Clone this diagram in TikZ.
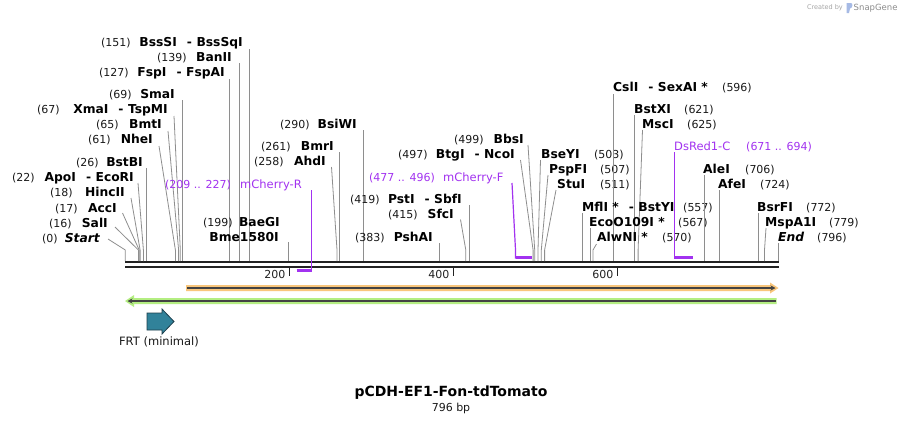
\documentclass[tikz,border=0pt]{standalone}
\usepackage{fontspec}
\setmainfont{DejaVu Sans}
\usetikzlibrary{arrows.meta}
\definecolor{cutgray}{HTML}{8E8E8E}
\definecolor{primcol}{HTML}{A232F0}
\definecolor{bbcol}{HTML}{222222}
\definecolor{orangeF}{HTML}{F9C67C}
\definecolor{greenF}{HTML}{B4EE82}
\definecolor{frtcol}{HTML}{31829A}
\definecolor{frtline}{HTML}{1E3F4C}
\newcommand\dsh{\hspace{10pt}-\hspace{4.5pt}}
\newcommand\cutv[3]{\coordinate (#1a) at (#2,#3); \coordinate (#1b) at (#2,261); \draw[cut] (#1a) -- (#1b);}
\newcommand\cuts[4]{\coordinate (#1a) at (#2,#3); \coordinate (#1m) at (#4,250); \coordinate (#1b) at (#4,261); \draw[cut] (#1a) -- (#1m) -- (#1b);}
\tikzset{
  nm/.style={inner sep=0pt, text height=8.9pt, text depth=0pt, font=\fontsize{12.3}{14}\selectfont\bfseries, text=black},
  num/.style={inner sep=0pt, text height=8pt, text depth=0pt, font=\fontsize{11}{13}\selectfont, text=black!90},
  prim/.style={inner sep=0pt, text height=8.3pt, text depth=0pt, font=\fontsize{11.5}{13}\selectfont, text=primcol},
  primn/.style={inner sep=0pt, text height=8pt, text depth=0pt, font=\fontsize{11}{13}\selectfont, text=primcol},
  cut/.style={draw=cutgray, line width=0.8pt},
  primline/.style={draw=primcol, line width=1.2pt},
  primbar/.style={draw=primcol, line width=2.6pt},
  bb/.style={draw=bbcol, line width=2.6pt},
  tickmark/.style={draw=bbcol, line width=1.6pt},
  ticklbl/.style={inner sep=0pt, anchor=east, font=\fontsize{11}{13}\selectfont, text=bbcol},
  featline/.style={draw=bbcol!85, line width=1.5pt, -{Stealth[length=5pt,width=5pt]}},
}
\begin{document}
\begin{tikzpicture}[x=1pt,y=-1pt]
\useasboundingbox (0,0) rectangle (904,424);
\fill[white] (0,0) rectangle (904,424);

% ---- SnapGene credit
\node[inner sep=0pt, anchor=east, font=\fontsize{6.5}{8}\selectfont, text=black!35] (credA) at (843,8) {Created by};
\fill[cyan!45!blue!35] (846.5,3) -- (851,3) .. controls (853,3) and (853,8) .. (850,8.5) -- (849,13) -- (846.5,13) -- cycle;
\node[inner sep=0pt, anchor=west, font=\fontsize{8.5}{10}\selectfont, text=black!45] (credB) at (853.5,8) {SnapGene};

% ---- backbone
\coordinate (bbL1) at (125,262); \coordinate (bbR1) at (778.8,262);
\coordinate (bbL2) at (125,267); \coordinate (bbR2) at (778.8,267);
\draw[bb] (bbL1) -- (bbR1);
\draw[bb] (bbL2) -- (bbR2);

% ticks
\coordinate (t200a) at (289.4,268); \coordinate (t200b) at (289.4,276);
\coordinate (t400a) at (453.5,268); \coordinate (t400b) at (453.5,276);
\coordinate (t600a) at (617.6,268); \coordinate (t600b) at (617.6,276);
\draw[tickmark] (t200a) -- (t200b);
\draw[tickmark] (t400a) -- (t400b);
\draw[tickmark] (t600a) -- (t600b);
\node[ticklbl] (l200) at (285.5,274.5) {200};
\node[ticklbl] (l400) at (449.5,274.5) {400};
\node[ticklbl] (l600) at (613.5,274.5) {600};

% ---- left-hand labels (number, name)
\node[num,anchor=west] at (101,42) {(151)};
\node[nm,anchor=east] (nBssSI) at (243,42) {BssSI\dsh BssSqI};
\cutv{cBssSI}{249.2}{49}

\node[num,anchor=west] at (157,57) {(139)};
\node[nm,anchor=east] (nBanII) at (232,57) {BanII};
\cutv{cBanII}{239.3}{63}

\node[num,anchor=west] at (99,72) {(127)};
\node[nm,anchor=east] (nFspI) at (225,72) {FspI\dsh FspAI};
\cutv{cFspI}{229.5}{79}

\node[num,anchor=west] at (109,94) {(69)};
\node[nm,anchor=east] (nSmaI) at (175,94) {SmaI};
\cutv{cSmaI}{181.9}{100}

\node[num,anchor=west] at (37,109) {(67)};
\node[nm,anchor=east] (nXmaI) at (168,109) {XmaI\dsh TspMI};
\cuts{cXmaI}{174}{116}{180.3}

\node[num,anchor=west] at (96,124) {(65)};
\node[nm,anchor=east] (nBmtI) at (162,124) {BmtI};
\cuts{cBmtI}{168}{131}{178.6}

\node[num,anchor=west] at (88,139) {(61)};
\node[nm,anchor=east] (nNheI) at (153,139) {NheI};
\cuts{cNheI}{159}{146}{175.4}

\node[num,anchor=west] at (76,162) {(26)};
\node[nm,anchor=east] (nBstBI) at (143,162) {BstBI};
\cutv{cBstBI}{146.6}{168}

\node[num,anchor=west] at (12,177) {(22)};
\node[nm,anchor=east] (nApoI) at (134,177) {ApoI\dsh EcoRI};
\cuts{cApoI}{138}{183}{143.4}

\node[num,anchor=west] at (50,192) {(18)};
\node[nm,anchor=east] (nHincII) at (125,192) {HincII};
\cuts{cHincII}{131}{198}{140.1}

\node[num,anchor=west] at (55,208) {(17)};
\node[nm,anchor=east] (nAccI) at (117,208) {AccI};
\cuts{cAccI}{122.5}{213}{139.2}

\node[num,anchor=west] at (49,223) {(16)};
\node[nm,anchor=east] (nSalI) at (108,223) {SalI};
\cuts{cSalI}{115}{227}{138.4}

\node[num,anchor=west] at (42,238) {(0)};
\node[nm,anchor=east] (nStart) at (100,238) {\itshape Start};
\cuts{cStart}{108}{239}{125.3}

\node[num,anchor=west] at (280,124) {(290)};
\node[nm,anchor=east] (nBsiWI) at (357,124) {BsiWI};
\cutv{cBsiWI}{363.2}{130}

\node[num,anchor=west] at (261,146) {(261)};
\node[nm,anchor=east] (nBmrI) at (334,146) {BmrI};
\cutv{cBmrI}{339.5}{152}

\node[num,anchor=west] at (254,161) {(258)};
\node[nm,anchor=east] (nAhdI) at (326,161) {AhdI};
\cuts{cAhdI}{331.5}{167}{337}

\node[num,anchor=west] at (203,222) {(199)};
\node[nm,anchor=east] (nBaeGI) at (280,222) {BaeGI};
\node[nm,anchor=east] (nBme) at (279,237) {Bme1580I};
\cutv{cBaeGI}{288.6}{242}

\node[num,anchor=west] at (350,199) {(419)};
\node[nm,anchor=east] (nPstI) at (462,199) {PstI\dsh SbfI};
\cutv{cPstI}{469.1}{205}

\node[num,anchor=west] at (388,214) {(415)};
\node[nm,anchor=east] (nSfcI) at (454,214) {SfcI};
\cuts{cSfcI}{460.5}{219.5}{465.8}

\node[num,anchor=west] at (355,237) {(383)};
\node[nm,anchor=east] (nPshAI) at (433,237) {PshAI};
\cutv{cPshAI}{439.5}{243}

\node[num,anchor=west] at (398,154) {(497)};
\node[nm,anchor=east] (nBtgI) at (515,154) {BtgI\dsh NcoI};
\cuts{cBtgI}{520.5}{160}{533.1}

\node[num,anchor=west] at (454,139) {(499)};
\node[nm,anchor=east] (nBbsI) at (524,139) {BbsI};
\cuts{cBbsI}{528}{145}{534.7}

% ---- right-hand labels (name, number)
\node[nm,anchor=west] (nBseYI) at (541,154) {BseYI};
\node[num,anchor=west] at (594,154) {(503)};
\cuts{cBseYI}{540.5}{160}{538}

\node[nm,anchor=west] (nPspFI) at (549,169) {PspFI};
\node[num,anchor=west] at (600,169) {(507)};
\cuts{cPspFI}{548}{175}{541.3}

\node[nm,anchor=west] (nStuI) at (557,184) {StuI};
\node[num,anchor=west] at (600,184) {(511)};
\cuts{cStuI}{556}{190}{544.6}

\node[nm,anchor=west] (nCslI) at (613,87) {CslI\dsh SexAI *};
\node[num,anchor=west] at (722,87) {(596)};
\cutv{cCslI}{613.8}{94}

\node[nm,anchor=west] (nBstXI) at (634,109) {BstXI};
\node[num,anchor=west] at (684,109) {(621)};
\cutv{cBstXI}{634.8}{115}

\node[nm,anchor=west] (nMscI) at (642,124) {MscI};
\node[num,anchor=west] at (687,124) {(625)};
\cuts{cMscI}{642.5}{130}{638.1}

\node[nm,anchor=west] (nMflI) at (582,207) {MflI *\dsh BstYI};
\node[num,anchor=west] at (683,207) {(557)};
\cutv{cMflI}{582.3}{213}

\node[nm,anchor=west] (nEco) at (589,222) {EcoO109I *};
\node[num,anchor=west] at (678,222) {(567)};
\cutv{cEco}{590.5}{228}

\node[nm,anchor=west] (nAlwNI) at (597,237) {AlwNI *};
\node[num,anchor=west] at (662,237) {(570)};
\cuts{cAlwNI}{596.5}{244}{593}

\node[nm,anchor=west] (nAleI) at (703,169) {AleI};
\node[num,anchor=west] at (745,169) {(706)};
\cutv{cAleI}{704.6}{175}

\node[nm,anchor=west] (nAfeI) at (718,184) {AfeI};
\node[num,anchor=west] at (760,184) {(724)};
\cutv{cAfeI}{719.3}{190}

\node[nm,anchor=west] (nBsrFI) at (757,207) {BsrFI};
\node[num,anchor=west] at (806,207) {(772)};
\cutv{cBsrFI}{758.7}{213}

\node[nm,anchor=west] (nMspA) at (765,222) {MspA1I};
\node[num,anchor=west] at (829,222) {(779)};
\cuts{cMspA}{766}{228}{764.5}

\node[nm,anchor=west] (nEnd) at (778,237) {\itshape End};
\node[num,anchor=west] at (817,237) {(796)};
\cutv{cEnd}{778.4}{243}

% ---- primers
\node[primn,anchor=west] (pRn) at (165,184) {(209 .. 227)};
\node[prim,anchor=west] (pRt) at (240,184) {mCherry-R};
\coordinate (pRa) at (311.5,190); \coordinate (pRb) at (311.5,271.8);
\draw[primline] (pRa) -- (pRb);
\coordinate (pRl) at (296.5,270.5); \coordinate (pRr) at (311.5,270.5);
\draw[primbar] (pRl) -- (pRr);

\node[primn,anchor=west] (pFn) at (369,177) {(477 .. 496)};
\node[prim,anchor=west] (pFt) at (443,177) {mCherry-F};
\coordinate (pFa) at (512,183); \coordinate (pFm) at (515.5,250); \coordinate (pFb) at (515.5,258.5);
\draw[primline] (pFa) -- (pFm) -- (pFb);
\coordinate (pFl) at (515.5,257.5); \coordinate (pFr) at (531.5,257.5);
\draw[primbar] (pFl) -- (pFr);

\node[prim,anchor=west] (pDt) at (674,146) {DsRed1-C};
\node[primn,anchor=west] (pDn) at (746,146) {(671 .. 694)};
\coordinate (pDa) at (674.7,152); \coordinate (pDb) at (674.7,258.5);
\draw[primline] (pDa) -- (pDb);
\coordinate (pDl) at (674.7,257.5); \coordinate (pDr) at (693,257.5);
\draw[primbar] (pDl) -- (pDr);

% ---- features
\fill[orangeF] (186,285) -- (770,285) -- (770,282.5) -- (778.5,288) -- (770,293.5) -- (770,291) -- (186,291) -- cycle;
\coordinate (orA) at (187,288); \coordinate (orB) at (775.5,288);
\draw[featline] (orA) -- (orB);

\fill[greenF] (776.5,298) -- (134,298) -- (134,295) -- (125,301) -- (134,307) -- (134,304) -- (776.5,304) -- cycle;
\coordinate (grA) at (775.5,301); \coordinate (grB) at (127.5,301);
\draw[featline] (grA) -- (grB);

\draw[fill=frtcol, draw=frtline, line width=0.8pt] (147,313) -- (162,313) -- (162,309) -- (174,321.5) -- (162,334) -- (162,330) -- (147,330) -- cycle;
\node[inner sep=0pt, font=\fontsize{11.5}{13}\selectfont, text=black!90] (frt) at (159,342) {FRT (minimal)};

% ---- title
\node[inner sep=0pt, font=\fontsize{14}{16}\selectfont\bfseries] (title) at (451,393) {pCDH-EF1-Fon-tdTomato};
\node[inner sep=0pt, font=\fontsize{11}{13}\selectfont, text=black!90] (bp) at (451,408) {796 bp};
\end{tikzpicture}
\end{document}
